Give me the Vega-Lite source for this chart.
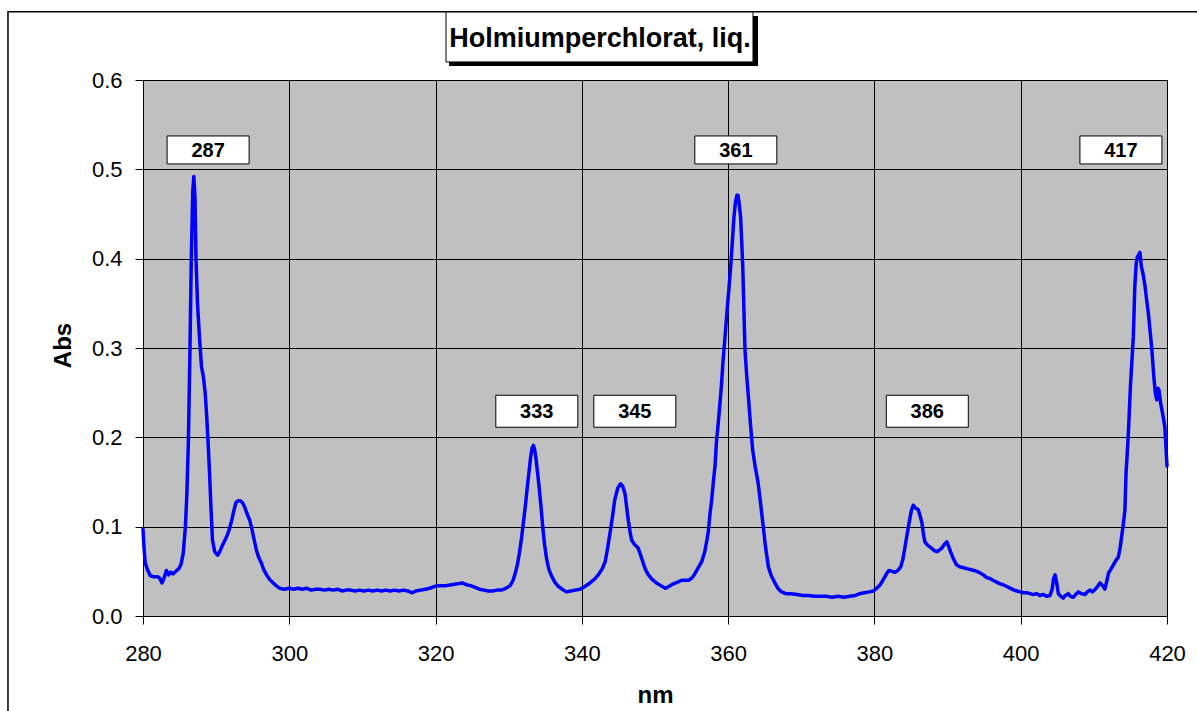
{
  "$schema": "https://vega.github.io/schema/vega-lite/v6.json",
  "width": 1024,
  "height": 536,
  "autosize": {"type": "none"},
  "padding": {"left": 143, "top": 80, "right": 30, "bottom": 95},
  "background": "white",
  "config": {
    "font": "Liberation Sans",
    "view": {"fill": "#C0C0C0", "stroke": "#808080", "strokeWidth": 1},
    "axis": {
      "grid": true,
      "gridColor": "#000000",
      "gridWidth": 1,
      "gridOpacity": 1,
      "tickSize": 8,
      "tickColor": "#000000",
      "tickWidth": 1,
      "domainColor": "#000000",
      "domainWidth": 1,
      "labelFontSize": 22,
      "labelColor": "#000000",
      "labelFont": "Liberation Sans",
      "labelFlush": false,
      "labelOverlap": false,
      "titleFont": "Liberation Sans",
      "titleFontSize": 24,
      "titleFontWeight": "bold",
      "titleColor": "#000000"
    }
  },
  "datasets": {
    "spectrum": [
      {"nm": 280.0, "abs": 0.097}, {"nm": 280.15, "abs": 0.075}, {"nm": 280.3, "abs": 0.060}, {"nm": 280.6, "abs": 0.052},
      {"nm": 281.0, "abs": 0.045}, {"nm": 281.5, "abs": 0.044}, {"nm": 282.0, "abs": 0.044}, {"nm": 282.3, "abs": 0.042},
      {"nm": 282.6, "abs": 0.037}, {"nm": 282.9, "abs": 0.043}, {"nm": 283.2, "abs": 0.051}, {"nm": 283.5, "abs": 0.046},
      {"nm": 283.8, "abs": 0.049}, {"nm": 284.1, "abs": 0.047}, {"nm": 284.5, "abs": 0.050}, {"nm": 284.9, "abs": 0.053},
      {"nm": 285.2, "abs": 0.058}, {"nm": 285.5, "abs": 0.070}, {"nm": 285.8, "abs": 0.100}, {"nm": 286.0, "abs": 0.137},
      {"nm": 286.2, "abs": 0.194}, {"nm": 286.4, "abs": 0.287}, {"nm": 286.6, "abs": 0.399}, {"nm": 286.8, "abs": 0.475},
      {"nm": 286.95, "abs": 0.492}, {"nm": 287.1, "abs": 0.470}, {"nm": 287.25, "abs": 0.399}, {"nm": 287.45, "abs": 0.350},
      {"nm": 287.7, "abs": 0.315}, {"nm": 288.0, "abs": 0.279}, {"nm": 288.25, "abs": 0.268}, {"nm": 288.5, "abs": 0.250},
      {"nm": 288.7, "abs": 0.225}, {"nm": 288.9, "abs": 0.194}, {"nm": 289.1, "abs": 0.160}, {"nm": 289.3, "abs": 0.120},
      {"nm": 289.5, "abs": 0.085}, {"nm": 289.8, "abs": 0.072}, {"nm": 290.2, "abs": 0.068}, {"nm": 290.5, "abs": 0.072},
      {"nm": 290.8, "abs": 0.078}, {"nm": 291.1, "abs": 0.083}, {"nm": 291.45, "abs": 0.089}, {"nm": 291.8, "abs": 0.097},
      {"nm": 292.1, "abs": 0.106}, {"nm": 292.4, "abs": 0.117}, {"nm": 292.7, "abs": 0.127}, {"nm": 293.0, "abs": 0.129},
      {"nm": 293.3, "abs": 0.129}, {"nm": 293.6, "abs": 0.127}, {"nm": 293.9, "abs": 0.122}, {"nm": 294.2, "abs": 0.115},
      {"nm": 294.6, "abs": 0.107}, {"nm": 294.9, "abs": 0.097}, {"nm": 295.1, "abs": 0.089}, {"nm": 295.5, "abs": 0.074},
      {"nm": 295.8, "abs": 0.066}, {"nm": 296.2, "abs": 0.059}, {"nm": 296.5, "abs": 0.052}, {"nm": 296.9, "abs": 0.046},
      {"nm": 297.3, "abs": 0.041}, {"nm": 297.8, "abs": 0.037}, {"nm": 298.2, "abs": 0.034}, {"nm": 298.7, "abs": 0.031},
      {"nm": 299.3, "abs": 0.030}, {"nm": 300.0, "abs": 0.031}, {"nm": 300.6, "abs": 0.030}, {"nm": 301.2, "abs": 0.031},
      {"nm": 301.8, "abs": 0.030}, {"nm": 302.4, "abs": 0.031}, {"nm": 303.0, "abs": 0.029}, {"nm": 303.6, "abs": 0.030},
      {"nm": 304.2, "abs": 0.030}, {"nm": 304.8, "abs": 0.029}, {"nm": 305.4, "abs": 0.030}, {"nm": 306.0, "abs": 0.029},
      {"nm": 306.6, "abs": 0.030}, {"nm": 307.2, "abs": 0.028}, {"nm": 307.8, "abs": 0.029}, {"nm": 308.4, "abs": 0.029},
      {"nm": 309.0, "abs": 0.028}, {"nm": 309.6, "abs": 0.029}, {"nm": 310.2, "abs": 0.028}, {"nm": 310.8, "abs": 0.029},
      {"nm": 311.4, "abs": 0.028}, {"nm": 312.0, "abs": 0.029}, {"nm": 312.6, "abs": 0.028}, {"nm": 313.2, "abs": 0.029},
      {"nm": 313.8, "abs": 0.028}, {"nm": 314.4, "abs": 0.029}, {"nm": 315.0, "abs": 0.028}, {"nm": 315.6, "abs": 0.029},
      {"nm": 316.2, "abs": 0.028}, {"nm": 316.8, "abs": 0.026}, {"nm": 317.3, "abs": 0.028}, {"nm": 318.0, "abs": 0.029},
      {"nm": 318.6, "abs": 0.030}, {"nm": 319.2, "abs": 0.031}, {"nm": 319.8, "abs": 0.033}, {"nm": 320.6, "abs": 0.034},
      {"nm": 321.4, "abs": 0.034}, {"nm": 322.2, "abs": 0.035}, {"nm": 323.0, "abs": 0.036}, {"nm": 323.6, "abs": 0.037},
      {"nm": 324.2, "abs": 0.035}, {"nm": 324.8, "abs": 0.034}, {"nm": 325.4, "abs": 0.032}, {"nm": 326.0, "abs": 0.030},
      {"nm": 326.6, "abs": 0.029}, {"nm": 327.2, "abs": 0.028}, {"nm": 327.8, "abs": 0.028}, {"nm": 328.4, "abs": 0.029},
      {"nm": 329.0, "abs": 0.029}, {"nm": 329.6, "abs": 0.031}, {"nm": 330.2, "abs": 0.034}, {"nm": 330.6, "abs": 0.040},
      {"nm": 330.9, "abs": 0.048}, {"nm": 331.2, "abs": 0.058}, {"nm": 331.45, "abs": 0.070}, {"nm": 331.75, "abs": 0.087},
      {"nm": 332.0, "abs": 0.104}, {"nm": 332.3, "abs": 0.125}, {"nm": 332.55, "abs": 0.145}, {"nm": 332.8, "abs": 0.163},
      {"nm": 333.0, "abs": 0.178}, {"nm": 333.2, "abs": 0.188}, {"nm": 333.37, "abs": 0.191}, {"nm": 333.55, "abs": 0.186},
      {"nm": 333.7, "abs": 0.178}, {"nm": 333.95, "abs": 0.160}, {"nm": 334.2, "abs": 0.141}, {"nm": 334.45, "abs": 0.119},
      {"nm": 334.65, "abs": 0.100}, {"nm": 334.9, "abs": 0.080}, {"nm": 335.2, "abs": 0.063}, {"nm": 335.5, "abs": 0.052},
      {"nm": 335.9, "abs": 0.044}, {"nm": 336.3, "abs": 0.038}, {"nm": 336.8, "abs": 0.033}, {"nm": 337.3, "abs": 0.030},
      {"nm": 337.9, "abs": 0.027}, {"nm": 338.5, "abs": 0.028}, {"nm": 339.1, "abs": 0.029}, {"nm": 339.75, "abs": 0.030},
      {"nm": 340.4, "abs": 0.033}, {"nm": 341.1, "abs": 0.037}, {"nm": 341.7, "abs": 0.041}, {"nm": 342.25, "abs": 0.046},
      {"nm": 342.8, "abs": 0.053}, {"nm": 343.2, "abs": 0.061}, {"nm": 343.5, "abs": 0.075}, {"nm": 343.85, "abs": 0.093},
      {"nm": 344.2, "abs": 0.112}, {"nm": 344.5, "abs": 0.130}, {"nm": 344.9, "abs": 0.143}, {"nm": 345.3, "abs": 0.148},
      {"nm": 345.6, "abs": 0.145}, {"nm": 345.9, "abs": 0.137}, {"nm": 346.15, "abs": 0.120}, {"nm": 346.35, "abs": 0.107},
      {"nm": 346.6, "abs": 0.094}, {"nm": 346.8, "abs": 0.085}, {"nm": 347.2, "abs": 0.080}, {"nm": 347.7, "abs": 0.076},
      {"nm": 348.0, "abs": 0.069}, {"nm": 348.4, "abs": 0.059}, {"nm": 348.7, "abs": 0.052}, {"nm": 349.1, "abs": 0.046},
      {"nm": 349.6, "abs": 0.041}, {"nm": 350.2, "abs": 0.037}, {"nm": 350.8, "abs": 0.034}, {"nm": 351.4, "abs": 0.031},
      {"nm": 351.9, "abs": 0.033}, {"nm": 352.5, "abs": 0.036}, {"nm": 353.1, "abs": 0.038}, {"nm": 353.65, "abs": 0.040},
      {"nm": 354.2, "abs": 0.040}, {"nm": 354.6, "abs": 0.040}, {"nm": 355.1, "abs": 0.043}, {"nm": 355.5, "abs": 0.048},
      {"nm": 355.9, "abs": 0.054}, {"nm": 356.4, "abs": 0.061}, {"nm": 356.8, "abs": 0.072}, {"nm": 357.1, "abs": 0.085},
      {"nm": 357.3, "abs": 0.095}, {"nm": 357.5, "abs": 0.113}, {"nm": 357.75, "abs": 0.130}, {"nm": 358.0, "abs": 0.152},
      {"nm": 358.2, "abs": 0.167}, {"nm": 358.4, "abs": 0.195}, {"nm": 358.65, "abs": 0.216}, {"nm": 358.9, "abs": 0.240},
      {"nm": 359.1, "abs": 0.260}, {"nm": 359.3, "abs": 0.285}, {"nm": 359.5, "abs": 0.305}, {"nm": 359.7, "abs": 0.326},
      {"nm": 359.9, "abs": 0.346}, {"nm": 360.1, "abs": 0.366}, {"nm": 360.35, "abs": 0.391}, {"nm": 360.6, "abs": 0.422},
      {"nm": 360.8, "abs": 0.447}, {"nm": 361.0, "abs": 0.463}, {"nm": 361.2, "abs": 0.471}, {"nm": 361.35, "abs": 0.471},
      {"nm": 361.5, "abs": 0.462}, {"nm": 361.7, "abs": 0.447}, {"nm": 361.85, "abs": 0.420}, {"nm": 362.0, "abs": 0.391},
      {"nm": 362.15, "abs": 0.345}, {"nm": 362.3, "abs": 0.298}, {"nm": 362.55, "abs": 0.268}, {"nm": 362.8, "abs": 0.242},
      {"nm": 363.05, "abs": 0.215}, {"nm": 363.35, "abs": 0.186}, {"nm": 363.7, "abs": 0.167}, {"nm": 364.1, "abs": 0.149},
      {"nm": 364.45, "abs": 0.125}, {"nm": 364.8, "abs": 0.100}, {"nm": 365.1, "abs": 0.078}, {"nm": 365.5, "abs": 0.055},
      {"nm": 365.9, "abs": 0.045}, {"nm": 366.4, "abs": 0.037}, {"nm": 366.8, "abs": 0.031}, {"nm": 367.3, "abs": 0.027},
      {"nm": 367.9, "abs": 0.025}, {"nm": 368.6, "abs": 0.025}, {"nm": 369.4, "abs": 0.024}, {"nm": 370.2, "abs": 0.023},
      {"nm": 371.0, "abs": 0.023}, {"nm": 371.8, "abs": 0.022}, {"nm": 372.6, "abs": 0.022}, {"nm": 373.4, "abs": 0.022},
      {"nm": 374.2, "abs": 0.021}, {"nm": 375.0, "abs": 0.022}, {"nm": 375.8, "abs": 0.021}, {"nm": 376.6, "abs": 0.022},
      {"nm": 377.4, "abs": 0.023}, {"nm": 378.0, "abs": 0.025}, {"nm": 378.6, "abs": 0.026}, {"nm": 379.3, "abs": 0.027},
      {"nm": 379.85, "abs": 0.028}, {"nm": 380.3, "abs": 0.031}, {"nm": 380.8, "abs": 0.035}, {"nm": 381.15, "abs": 0.040},
      {"nm": 381.45, "abs": 0.044}, {"nm": 381.7, "abs": 0.048}, {"nm": 382.0, "abs": 0.051}, {"nm": 382.4, "abs": 0.050},
      {"nm": 382.8, "abs": 0.049}, {"nm": 383.2, "abs": 0.051}, {"nm": 383.6, "abs": 0.055}, {"nm": 383.9, "abs": 0.064},
      {"nm": 384.2, "abs": 0.078}, {"nm": 384.5, "abs": 0.093}, {"nm": 384.8, "abs": 0.107}, {"nm": 385.05, "abs": 0.118},
      {"nm": 385.3, "abs": 0.124}, {"nm": 385.6, "abs": 0.121}, {"nm": 386.0, "abs": 0.119}, {"nm": 386.25, "abs": 0.112},
      {"nm": 386.5, "abs": 0.104}, {"nm": 386.7, "abs": 0.092}, {"nm": 386.9, "abs": 0.083}, {"nm": 387.3, "abs": 0.079},
      {"nm": 387.8, "abs": 0.076}, {"nm": 388.2, "abs": 0.073}, {"nm": 388.6, "abs": 0.072}, {"nm": 388.9, "abs": 0.074},
      {"nm": 389.2, "abs": 0.076}, {"nm": 389.55, "abs": 0.080}, {"nm": 389.9, "abs": 0.083}, {"nm": 390.15, "abs": 0.078},
      {"nm": 390.4, "abs": 0.072}, {"nm": 390.8, "abs": 0.064}, {"nm": 391.25, "abs": 0.057}, {"nm": 391.7, "abs": 0.055},
      {"nm": 392.2, "abs": 0.054}, {"nm": 392.6, "abs": 0.053}, {"nm": 393.1, "abs": 0.052}, {"nm": 393.6, "abs": 0.051},
      {"nm": 394.0, "abs": 0.050}, {"nm": 394.5, "abs": 0.048}, {"nm": 394.9, "abs": 0.046}, {"nm": 395.35, "abs": 0.043},
      {"nm": 395.8, "abs": 0.042}, {"nm": 396.2, "abs": 0.040}, {"nm": 396.7, "abs": 0.038}, {"nm": 397.2, "abs": 0.036},
      {"nm": 397.6, "abs": 0.035}, {"nm": 398.1, "abs": 0.033}, {"nm": 398.6, "abs": 0.031}, {"nm": 399.1, "abs": 0.029},
      {"nm": 399.5, "abs": 0.028}, {"nm": 399.9, "abs": 0.027}, {"nm": 400.4, "abs": 0.026}, {"nm": 400.8, "abs": 0.026},
      {"nm": 401.3, "abs": 0.025}, {"nm": 401.7, "abs": 0.024}, {"nm": 402.2, "abs": 0.025}, {"nm": 402.6, "abs": 0.023},
      {"nm": 403.1, "abs": 0.024}, {"nm": 403.55, "abs": 0.022}, {"nm": 404.0, "abs": 0.023}, {"nm": 404.3, "abs": 0.030},
      {"nm": 404.5, "abs": 0.042}, {"nm": 404.7, "abs": 0.046}, {"nm": 404.9, "abs": 0.038}, {"nm": 405.15, "abs": 0.025},
      {"nm": 405.5, "abs": 0.022}, {"nm": 405.8, "abs": 0.020}, {"nm": 406.1, "abs": 0.023}, {"nm": 406.5, "abs": 0.025},
      {"nm": 406.8, "abs": 0.022}, {"nm": 407.2, "abs": 0.021}, {"nm": 407.5, "abs": 0.024}, {"nm": 407.9, "abs": 0.027},
      {"nm": 408.3, "abs": 0.025}, {"nm": 408.8, "abs": 0.024}, {"nm": 409.1, "abs": 0.027}, {"nm": 409.5, "abs": 0.029},
      {"nm": 409.8, "abs": 0.027}, {"nm": 410.2, "abs": 0.030}, {"nm": 410.5, "abs": 0.033}, {"nm": 410.85, "abs": 0.037},
      {"nm": 411.2, "abs": 0.034}, {"nm": 411.5, "abs": 0.030}, {"nm": 411.8, "abs": 0.040}, {"nm": 412.0, "abs": 0.048},
      {"nm": 412.3, "abs": 0.052}, {"nm": 412.65, "abs": 0.057}, {"nm": 413.0, "abs": 0.062}, {"nm": 413.35, "abs": 0.066},
      {"nm": 413.6, "abs": 0.077}, {"nm": 413.8, "abs": 0.089}, {"nm": 414.05, "abs": 0.104}, {"nm": 414.25, "abs": 0.119},
      {"nm": 414.4, "abs": 0.160}, {"nm": 414.55, "abs": 0.180}, {"nm": 414.7, "abs": 0.201}, {"nm": 414.85, "abs": 0.229},
      {"nm": 415.0, "abs": 0.257}, {"nm": 415.2, "abs": 0.285}, {"nm": 415.4, "abs": 0.313}, {"nm": 415.6, "abs": 0.369},
      {"nm": 415.8, "abs": 0.395}, {"nm": 415.95, "abs": 0.402}, {"nm": 416.1, "abs": 0.404}, {"nm": 416.3, "abs": 0.407},
      {"nm": 416.5, "abs": 0.391}, {"nm": 416.75, "abs": 0.382}, {"nm": 417.0, "abs": 0.369}, {"nm": 417.2, "abs": 0.355},
      {"nm": 417.45, "abs": 0.339}, {"nm": 417.7, "abs": 0.318}, {"nm": 417.9, "abs": 0.301}, {"nm": 418.05, "abs": 0.285},
      {"nm": 418.2, "abs": 0.268}, {"nm": 418.4, "abs": 0.250}, {"nm": 418.6, "abs": 0.242}, {"nm": 418.75, "abs": 0.255},
      {"nm": 418.9, "abs": 0.253}, {"nm": 419.1, "abs": 0.240}, {"nm": 419.3, "abs": 0.231}, {"nm": 419.5, "abs": 0.222},
      {"nm": 419.7, "abs": 0.212}, {"nm": 419.85, "abs": 0.190}, {"nm": 420.0, "abs": 0.168}
    ],
    "peaks": [
      {"label": "287", "nm": 288.9, "abs": 0.5217, "row": "upper"},
      {"label": "361", "nm": 361.05, "abs": 0.5217, "row": "upper"},
      {"label": "417", "nm": 413.7, "abs": 0.5217, "row": "upper"},
      {"label": "333", "nm": 333.84, "abs": 0.2292, "row": "lower"},
      {"label": "345", "nm": 347.24, "abs": 0.2292, "row": "lower"},
      {"label": "386", "nm": 387.23, "abs": 0.2292, "row": "lower"}
    ],
    "decor": [
      {"part": "frame", "nm": 261.54, "nm2": 425.5, "abs": 0.6765, "abs2": -0.13},
      {"part": "shadow", "nm": 321.84, "nm2": 364.09, "abs": 0.6716, "abs2": 0.6157},
      {"part": "box", "nm": 321.43, "nm2": 363.4, "abs": 0.6761, "abs2": 0.6202}
    ],
    "heading": [
      {"nm": 342.48, "abs": 0.637, "text": "Holmiumperchlorat, liq."}
    ]
  },
  "encoding": {
    "x": {
      "field": "nm",
      "type": "quantitative",
      "scale": {"domain": [280, 420], "nice": false, "zero": false},
      "axis": {
        "values": [280, 300, 320, 340, 360, 380, 400, 420],
        "format": "d",
        "labelBaseline": "alphabetic",
        "labelPadding": 36,
        "title": "nm",
        "titleX": 512,
        "titleY": 86,
        "titleBaseline": "alphabetic",
        "titleAlign": "center"
      }
    },
    "y": {
      "field": "abs",
      "type": "quantitative",
      "scale": {"domain": [0, 0.6], "nice": false, "zero": false},
      "axis": {
        "values": [0, 0.1, 0.2, 0.3, 0.4, 0.5, 0.6],
        "format": ".1f",
        "labelPadding": 13,
        "title": "Abs",
        "titleAngle": -90,
        "titleX": -73,
        "titleY": 265,
        "titleBaseline": "alphabetic",
        "titleAlign": "center"
      }
    }
  },
  "layer": [
    {
      "data": {"name": "decor"},
      "transform": [{"filter": "datum.part === 'frame'"}],
      "mark": {"type": "rect", "fill": "transparent", "stroke": "#000000", "strokeWidth": 1.5, "clip": false},
      "encoding": {"x2": {"field": "nm2"}, "y2": {"field": "abs2"}}
    },
    {
      "data": {"name": "decor"},
      "transform": [{"filter": "datum.part === 'shadow'"}],
      "mark": {"type": "rect", "fill": "#000000", "clip": false},
      "encoding": {"x2": {"field": "nm2"}, "y2": {"field": "abs2"}}
    },
    {
      "data": {"name": "decor"},
      "transform": [{"filter": "datum.part === 'box'"}],
      "mark": {"type": "rect", "fill": "#FFFFFF", "stroke": "#000000", "strokeWidth": 1, "clip": false},
      "encoding": {"x2": {"field": "nm2"}, "y2": {"field": "abs2"}}
    },
    {
      "data": {"name": "heading"},
      "mark": {"type": "text", "fontSize": 27, "fontWeight": "bold", "align": "center", "baseline": "alphabetic", "color": "#000000", "clip": false},
      "encoding": {"text": {"field": "text"}}
    },
    {
      "data": {"name": "spectrum"},
      "mark": {"type": "line", "color": "#0000FF", "strokeWidth": 3.5, "strokeJoin": "round", "strokeCap": "round"},
      "encoding": {}
    },
    {
      "data": {"name": "peaks"},
      "transform": [{"filter": "datum.row === 'upper'"}],
      "mark": {"type": "point", "shape": "M-1,-0.341H1V0.341H-1Z", "size": 6724, "filled": true, "fill": "#FFFFFF", "stroke": "#000000", "strokeWidth": 1, "opacity": 1}
    },
    {
      "data": {"name": "peaks"},
      "transform": [{"filter": "datum.row === 'lower'"}],
      "mark": {"type": "point", "shape": "M-1,-0.39H1V0.39H-1Z", "size": 6724, "filled": true, "fill": "#FFFFFF", "stroke": "#000000", "strokeWidth": 1, "opacity": 1}
    },
    {
      "data": {"name": "peaks"},
      "mark": {"type": "text", "fontSize": 20, "fontWeight": "bold", "align": "center", "baseline": "middle", "dy": 1, "color": "#000000"},
      "encoding": {"text": {"field": "label"}}
    }
  ]
}
